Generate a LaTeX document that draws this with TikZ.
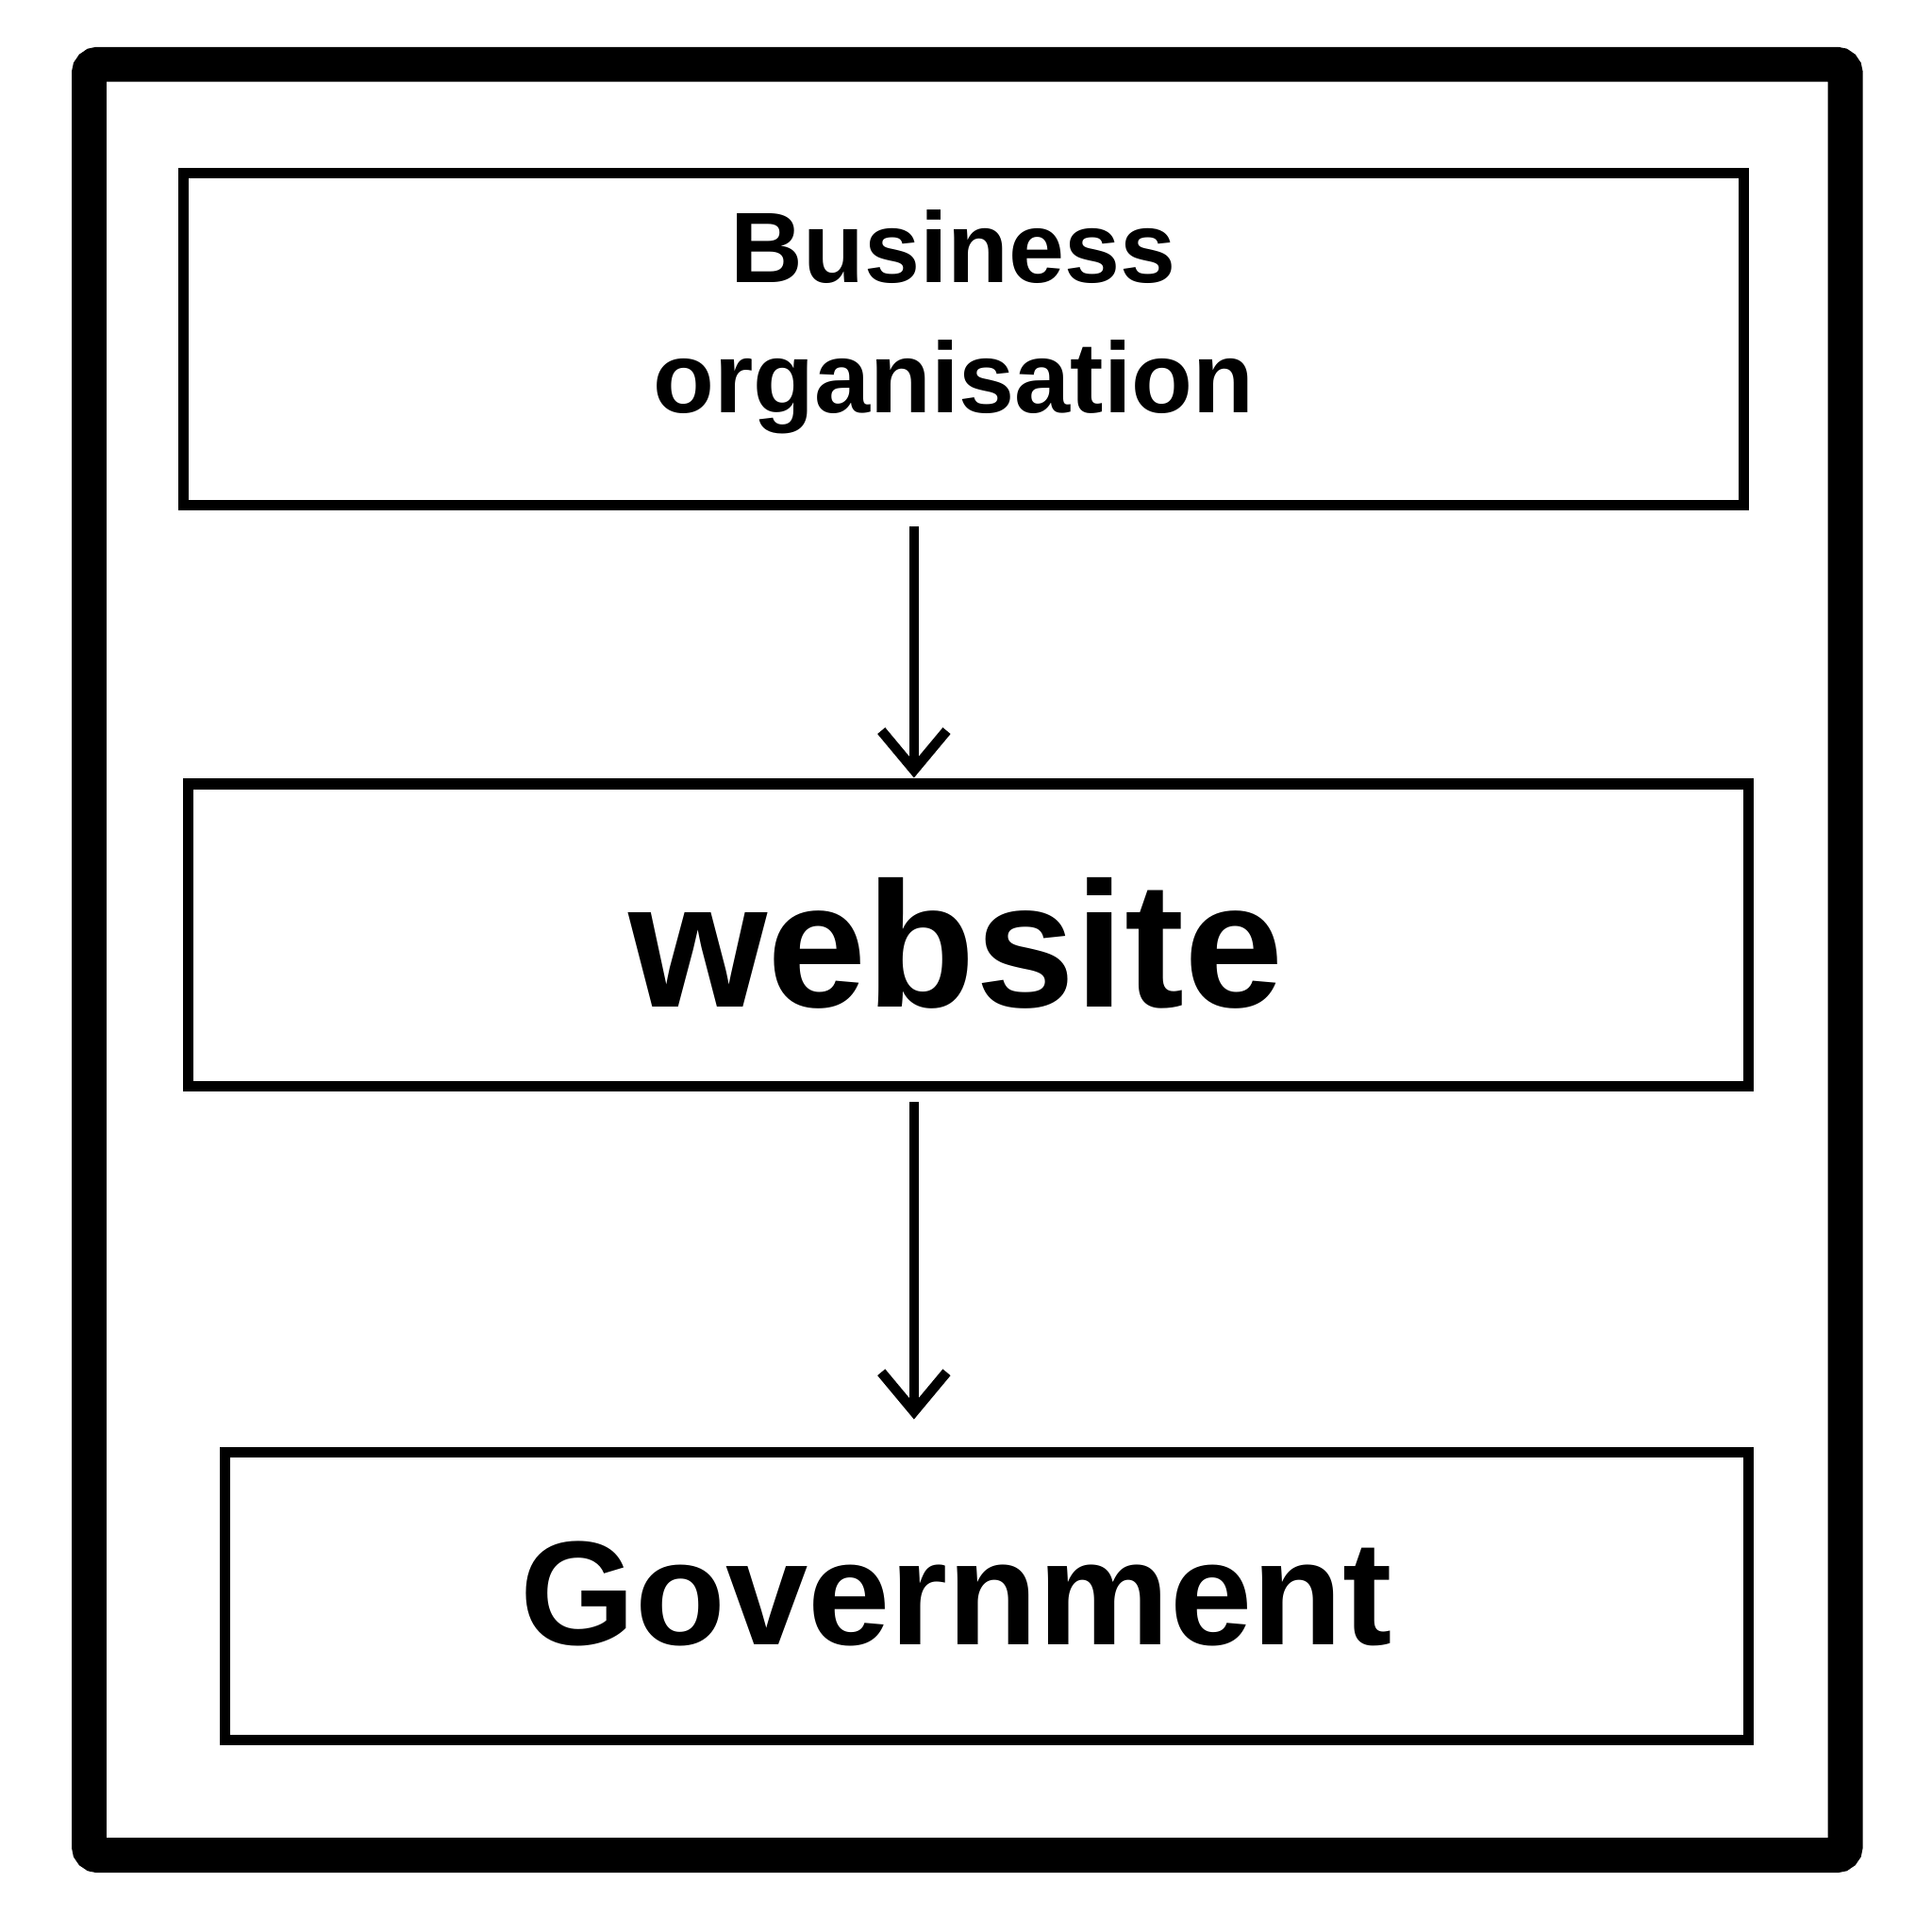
\documentclass[tikz,border=0pt]{standalone}
\usepackage{fontspec}
\setmainfont{Liberation Sans}
\usetikzlibrary{arrows.meta}
\begin{document}
\begin{tikzpicture}[x=0.01cm,y=-0.01cm,
  boxline/.style={line width=2.4pt},
  arr/.style={line width=2.3pt,-{Straight Barb[length=9pt,width=15pt,line width=2.3pt]}}]
\useasboundingbox (0,0) rectangle (1560,1560);
\fill[white] (0,0) rectangle (1560,1560);
\draw[line width=8pt,rounded corners=2pt] (72,52) rectangle (1490,1498);
\draw[boxline] (148,140) rectangle (1408,408);
\draw[boxline] (152,633) rectangle (1412,877);
\draw[boxline] (182,1173) rectangle (1412,1405);
\node[font=\bfseries\fontsize{23}{28}\selectfont,anchor=base] (bus1) at (770,228) {Business};
\node[font=\bfseries\fontsize{23}{28}\selectfont,anchor=base] (bus2) at (770,333) {organisation};
\node[font=\bfseries\fontsize{41}{50}\selectfont,anchor=base] (web) at (772,813) {website};
\node[font=\bfseries\fontsize{34}{40}\selectfont,anchor=base] (gov) at (772,1328) {Government};
\coordinate (a1) at (738,425); \coordinate (a2) at (738,628);
\coordinate (a3) at (738,890); \coordinate (a4) at (738,1146);
\draw[arr] (a1) -- (a2);
\draw[arr] (a3) -- (a4);
\end{tikzpicture}
\end{document}
